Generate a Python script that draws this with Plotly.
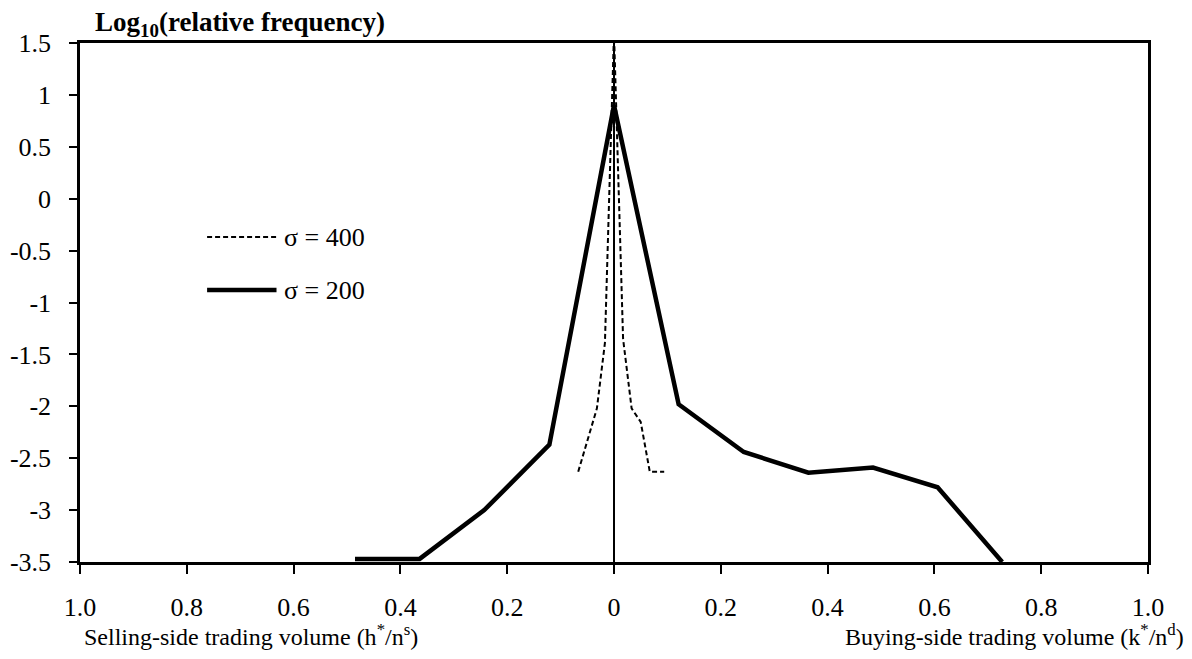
import plotly.graph_objects as go

# sigma = 200 (solid)
x200 = [-0.485, -0.364, -0.243, -0.121, 0.0, 0.121, 0.243, 0.364, 0.485, 0.606, 0.727]
y200 = [-3.47, -3.47, -3.0, -2.37, 0.9, -1.98, -2.44, -2.64, -2.59, -2.78, -3.5]

# sigma = 400 (dashed)
x400 = [-0.067, -0.032, -0.017, 0.0, 0.017, 0.033, 0.05, 0.067, 0.094]
y400 = [-2.63, -2.02, -1.39, 1.6, -1.35, -2.02, -2.15, -2.63, -2.63]

xticks = [-1.0, -0.8, -0.6, -0.4, -0.2, 0.0, 0.2, 0.4, 0.6, 0.8, 1.0]
xticklabels = ["1.0", "0.8", "0.6", "0.4", "0.2", "0", "0.2", "0.4", "0.6", "0.8", "1.0"]
yticks = [1.5, 1, 0.5, 0, -0.5, -1, -1.5, -2, -2.5, -3, -3.5]
yticklabels = ["1.5", "1", "0.5", "0", "-0.5", "-1", "-1.5", "-2", "-2.5", "-3", "-3.5"]

FONT = "Liberation Serif, Palatino Linotype, serif"

fig = go.Figure()
fig.add_trace(go.Scatter(x=x400, y=y400, mode="lines", name="σ = 400",
                         line=dict(color="black", width=2, dash="5px,3px")))
fig.add_trace(go.Scatter(x=x200, y=y200, mode="lines", name="σ = 200",
                         line=dict(color="black", width=4.5)))

# page body has an 8px margin: shrink figure so the plot area lands where the reference has it
fig.update_layout(
    width=1184, height=643,
    margin=dict(l=72, r=44, t=35, b=89, autoexpand=False),
    paper_bgcolor="white", plot_bgcolor="white",
    showlegend=False,
    font=dict(family=FONT, size=24, color="black"),
)
fig.update_xaxes(range=[-1, 1], tickvals=xticks, ticktext=xticklabels,
                 ticks="outside", ticklen=9, tickwidth=2, tickcolor="black",
                 showline=True, linecolor="black", linewidth=2.5, mirror=True,
                 showgrid=False, zeroline=True, zerolinecolor="black", zerolinewidth=2,
                 automargin=False,
                 ticklabelstandoff=11, tickfont=dict(family=FONT, size=26))
fig.update_yaxes(range=[-3.5, 1.5], tickvals=yticks, ticktext=yticklabels,
                 ticks="outside", ticklen=8, tickwidth=2, tickcolor="black",
                 showline=True, linecolor="black", linewidth=2.5, mirror=True,
                 showgrid=False, zeroline=False, automargin=False,
                 ticklabelstandoff=13, tickfont=dict(family=FONT, size=26))

# custom legend
fig.add_shape(type="line", xref="paper", yref="paper", x0=0.119, x1=0.184, y0=0.626, y1=0.626,
              line=dict(color="black", width=2, dash="5px,3px"))
fig.add_shape(type="line", xref="paper", yref="paper", x0=0.119, x1=0.184, y0=0.524, y1=0.524,
              line=dict(color="black", width=4.5))
fig.add_annotation(xref="paper", yref="paper", x=0.189, y=0.626, text="σ = 400",
                   showarrow=False, xanchor="left", yanchor="middle", font=dict(size=26))
fig.add_annotation(xref="paper", yref="paper", x=0.189, y=0.524, text="σ = 200",
                   showarrow=False, xanchor="left", yanchor="middle", font=dict(size=26))

# titles
fig.add_annotation(xref="paper", yref="paper", x=0.012, y=1.0, yshift=0,
                   text="<b>Log<sub>10</sub>(relative frequency)</b>",
                   showarrow=False, xanchor="left", yanchor="bottom", font=dict(size=27))
fig.add_annotation(xref="paper", yref="paper", x=0.002, y=0, yshift=-56,
                   text="Selling-side trading volume (h<sup>*</sup>/n<sup>s</sup>)",
                   showarrow=False, xanchor="left", yanchor="top", font=dict(size=24))
fig.add_annotation(xref="paper", yref="paper", x=1.0, y=0, yshift=-56, xshift=38,
                   text="Buying-side trading volume (k<sup>*</sup>/n<sup>d</sup>)",
                   showarrow=False, xanchor="right", yanchor="top", font=dict(size=24))

fig.write_html("out.html")
